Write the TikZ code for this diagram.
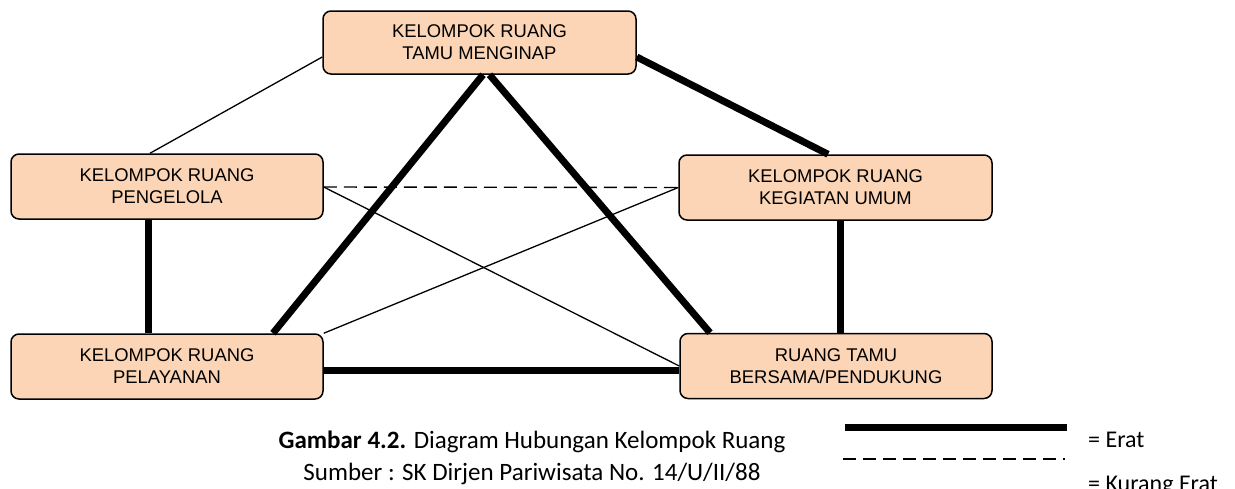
\documentclass[tikz,border=0pt]{standalone}
\usepackage{fontspec}
\setmainfont{Liberation Sans}
\newfontfamily\capfont{Carlito}
\usetikzlibrary{calc}
\definecolor{peach}{HTML}{FBD5B5}
\tikzset{
  room/.style={draw=black, line width=1.5pt, fill=peach, rounded corners=8pt,
    minimum width=312pt, minimum height=65pt, inner sep=0pt, align=center,
    font=\fontsize{18.4}{22}\selectfont},
  erat/.style={line width=7pt},
  lemah/.style={line width=1.3pt},
  kurang/.style={line width=1.4pt, dash pattern=on 13pt off 7pt},
  capt/.style={font=\capfont\fontsize{25}{30}\selectfont, inner sep=0pt},
  legtext/.style={font=\capfont\fontsize{24}{29}\selectfont, inner sep=0pt, anchor=base west},
}
\begin{document}
\begin{tikzpicture}[x=1pt,y=-1pt]
\useasboundingbox (0,0) rectangle (1235,488);
\node[room, minimum width=313pt, minimum height=63pt] (tm) at (479.5,42.5) {KELOMPOK RUANG\\TAMU MENGINAP};
\node[room] (pg) at (167,186.5) {KELOMPOK RUANG\\PENGELOLA};
\node[room, minimum width=313pt] (ku) at (835.5,187.5) {KELOMPOK RUANG\\KEGIATAN UMUM};
\node[room] (pl) at (167,366.5) {KELOMPOK RUANG\\PELAYANAN};
\node[room] (rt) at (836,366) {RUANG TAMU\\BERSAMA/PENDUKUNG};
% connectors
\draw[lemah] ([yshift=-14.5pt]tm.west) -- ([xshift=-17pt]pg.north);
\draw[erat] ([yshift=-14.5pt]tm.east) -- ([xshift=-7.5pt]ku.north);
\draw[erat] ([xshift=3.5pt]tm.south) -- ([xshift=106pt]pl.north);
\draw[erat] ([xshift=10pt]tm.south) -- ([xshift=-126pt]rt.north);
\draw[erat] ([xshift=-19pt]pg.south) -- ([xshift=-19pt]pl.north);
\draw[erat] ([xshift=4.5pt]ku.south) -- ([xshift=4pt]rt.north);
\draw[erat] ([yshift=-3.5pt]pl.east) -- ([yshift=-4pt]rt.west);
\draw[kurang] ([yshift=-0.5pt]pg.east) -- (ku.west);
\draw[lemah] ([yshift=-0.5pt]pg.east) -- (rt.west);
\draw[lemah] (pl.north east) -- (ku.west);
% legend
\coordinate (e1) at (845,427);
\coordinate (e2) at (1067,427);
\coordinate (k1) at (843,459);
\coordinate (k2) at (1065,459);
\draw[erat] (e1) -- (e2);
\draw[kurang, line width=1.8pt] (k1) -- (k2);
\node[legtext] (le) at (1088,447) {= Erat};
\node[legtext] (lk) at (1088,491) {= Kurang Erat};
% caption
\node[capt, anchor=base] (c1) at (532,448) {\textbf{Gambar 4.2.} Diagram Hubungan Kelompok Ruang};
\node[capt, anchor=base] (c2) at (532,480) {Sumber : SK Dirjen Pariwisata No. 14/U/II/88};
\end{tikzpicture}
\end{document}
